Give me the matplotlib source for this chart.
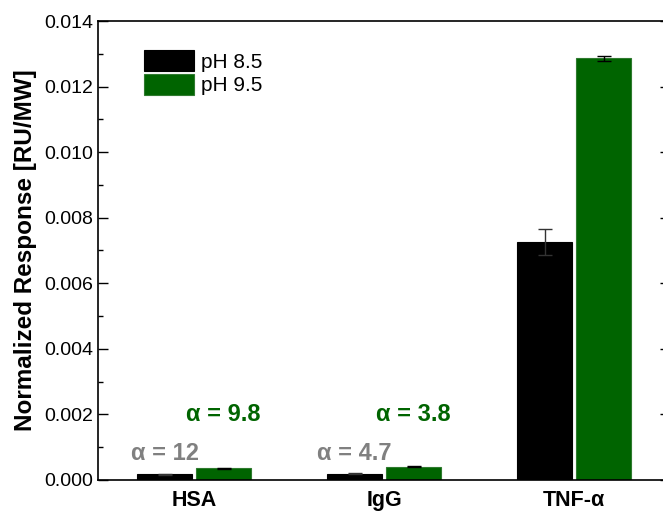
import numpy as np
import matplotlib.pyplot as plt
from matplotlib.ticker import MultipleLocator, FormatStrFormatter

plt.rcParams['font.family'] = ['Liberation Sans', 'DejaVu Sans']

# Data
proteins = ["HSA", "IgG", "TNF-\u03b1"]
ph85 = [0.000170, 0.000190, 0.00726]
ph85_err = [0.000010, 0.000010, 0.00040]
ph95 = [0.000357, 0.000405, 0.01286]
ph95_err = [0.000015, 0.000020, 0.00008]
alpha85 = ["\u03b1 = 12", "\u03b1 = 4.7"]
alpha95 = ["\u03b1 = 9.8", "\u03b1 = 3.8"]

green = "#006400"
x = np.arange(len(proteins))
w = 0.29
off = 0.155

fig = plt.figure(figsize=(6.63, 5.11), dpi=100)
ax = fig.add_axes([0.148, 0.0607, 0.863, 0.8982])

ax.bar(x - off, ph85, w, yerr=ph85_err, color="black", edgecolor="black",
       linewidth=0.8, ecolor="#333333", capsize=5, error_kw={"elinewidth": 1, "capthick": 1},
       label="pH 8.5")
ax.bar(x + off, ph95, w, yerr=ph95_err, color=green, edgecolor="#2f7a2f",
       linewidth=0.8, ecolor="black", capsize=5, error_kw={"elinewidth": 1, "capthick": 1},
       label="pH 9.5")

# alpha annotations for HSA and IgG
for i in range(2):
    ax.text(x[i] - off, 0.00082, alpha85[i], color="#808080", fontsize=17,
            fontweight="bold", ha="center", va="center")
    ax.text(x[i] + off, 0.0020, alpha95[i], color=green, fontsize=17,
            fontweight="bold", ha="center", va="center")

ax.set_xlim(-0.505, 2.505)
ax.set_ylim(0, 0.014)
ax.set_xticks(x)
ax.set_xticklabels(proteins, fontsize=15.5, fontweight="bold")
ax.tick_params(axis="x", length=0, pad=7)
ax.yaxis.set_major_locator(MultipleLocator(0.002))
ax.yaxis.set_minor_locator(MultipleLocator(0.001))
ax.yaxis.set_major_formatter(FormatStrFormatter("%.3f"))
ax.tick_params(axis="y", which="major", direction="in", length=7, width=1,
               labelsize=14, right=True)
ax.tick_params(axis="y", which="minor", direction="in", length=3.5, width=1, right=True)
for s in ax.spines.values():
    s.set_linewidth(1.2)
ax.set_ylabel("Normalized Response [RU/MW]", fontsize=17.5, fontweight="bold", labelpad=5)

ax.legend(loc="upper left", bbox_to_anchor=(0.065, 0.955), frameon=False, fontsize=15,
          handlelength=2.4, handleheight=1.2, labelspacing=0.1, handletextpad=0.35,
          borderaxespad=0)

fig.savefig("out.png", dpi=100)
